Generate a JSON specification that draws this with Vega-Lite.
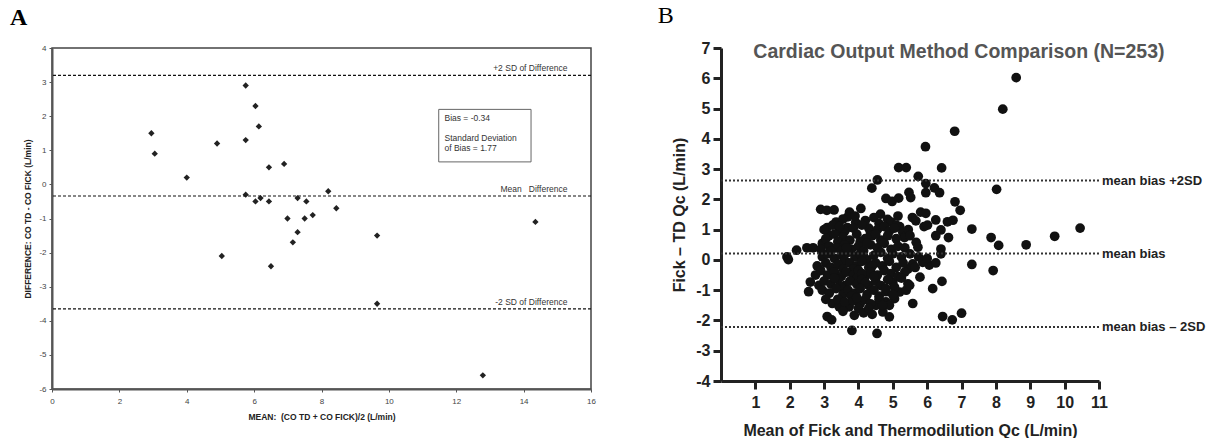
{
  "$schema": "https://vega.github.io/schema/vega-lite/v6.json",
  "background": "white",
  "padding": {"left": 9, "top": 4, "right": 0, "bottom": 0},
  "spacing": 60,
  "config": {"view": {"stroke": null}, "font": "Liberation Sans"},
  "datasets": {
    "a": [
      {"mean": 2.95, "diff": 1.5}, {"mean": 3.05, "diff": 0.9}, {"mean": 4.0, "diff": 0.2}, {"mean": 4.9, "diff": 1.2},
      {"mean": 5.75, "diff": 2.9}, {"mean": 6.04, "diff": 2.3}, {"mean": 6.14, "diff": 1.7}, {"mean": 5.75, "diff": 1.3},
      {"mean": 6.44, "diff": 0.5}, {"mean": 6.89, "diff": 0.6}, {"mean": 5.75, "diff": -0.3}, {"mean": 6.04, "diff": -0.5},
      {"mean": 6.19, "diff": -0.4}, {"mean": 6.44, "diff": -0.5}, {"mean": 7.29, "diff": -0.4}, {"mean": 6.99, "diff": -1.0},
      {"mean": 7.55, "diff": -0.5}, {"mean": 8.2, "diff": -0.2}, {"mean": 8.44, "diff": -0.7}, {"mean": 7.5, "diff": -1.0},
      {"mean": 7.74, "diff": -0.9}, {"mean": 14.35, "diff": -1.1}, {"mean": 7.29, "diff": -1.4}, {"mean": 7.15, "diff": -1.7},
      {"mean": 9.65, "diff": -1.5}, {"mean": 9.65, "diff": -3.5}, {"mean": 12.79, "diff": -5.6}, {"mean": 5.04, "diff": -2.1},
      {"mean": 6.5, "diff": -2.4}
    ],
    "a_lines": [
      {"y": 3.2, "label": "+2 SD of Difference"},
      {"y": -0.34, "label": "Mean\u00a0\u00a0\u00a0Difference"},
      {"y": -3.65, "label": "-2 SD of Difference"}
    ],
    "a_box": [{"t1": "Bias = -0.34", "t2": ["Standard Deviation", "of Bias = 1.77"]}],
    "b_lines": [
      {"y": 2.62, "label": "mean bias +2SD"},
      {"y": 0.21, "label": "mean bias"},
      {"y": -2.22, "label": "mean bias \u2013 2SD"}
    ],
    "b_title": [{"text": "Cardiac Output Method Comparison (N=253)"}],
    "b": [
      {"m": 8.59, "d": 6.02}, {"m": 8.2, "d": 4.98}, {"m": 6.8, "d": 4.25}, {"m": 5.95, "d": 3.74}, {"m": 5.17, "d": 3.05},
      {"m": 5.39, "d": 3.05}, {"m": 6.42, "d": 3.04}, {"m": 5.74, "d": 2.76}, {"m": 8.02, "d": 2.33}, {"m": 5.96, "d": 2.52},
      {"m": 6.21, "d": 2.38}, {"m": 6.36, "d": 2.22}, {"m": 5.47, "d": 2.23}, {"m": 5.96, "d": 2.22}, {"m": 4.55, "d": 2.64},
      {"m": 4.39, "d": 2.37}, {"m": 4.8, "d": 2.03}, {"m": 4.98, "d": 1.93}, {"m": 5.17, "d": 2.04}, {"m": 5.52, "d": 2.06},
      {"m": 2.9, "d": 1.67}, {"m": 3.08, "d": 1.64}, {"m": 3.29, "d": 1.65}, {"m": 3.74, "d": 1.58}, {"m": 3.69, "d": 1.42},
      {"m": 4.07, "d": 1.7}, {"m": 4.64, "d": 1.51}, {"m": 4.85, "d": 1.34}, {"m": 5.15, "d": 1.45}, {"m": 6.81, "d": 1.92},
      {"m": 6.96, "d": 1.64}, {"m": 5.81, "d": 1.58}, {"m": 5.96, "d": 1.54}, {"m": 5.57, "d": 1.4}, {"m": 5.67, "d": 1.29},
      {"m": 6.25, "d": 1.32}, {"m": 6.59, "d": 1.26}, {"m": 6.75, "d": 1.31}, {"m": 7.3, "d": 1.02}, {"m": 5.91, "d": 1.1},
      {"m": 6.01, "d": 1.15}, {"m": 6.4, "d": 0.99}, {"m": 6.25, "d": 0.8}, {"m": 6.62, "d": 0.74}, {"m": 5.2, "d": 1.1},
      {"m": 5.29, "d": 0.91}, {"m": 5.34, "d": 0.74}, {"m": 5.68, "d": 0.58}, {"m": 5.73, "d": 0.42}, {"m": 6.4, "d": 0.36},
      {"m": 7.86, "d": 0.74}, {"m": 8.08, "d": 0.48}, {"m": 8.88, "d": 0.5}, {"m": 9.71, "d": 0.78}, {"m": 10.45, "d": 1.05},
      {"m": 7.3, "d": -0.15}, {"m": 7.92, "d": -0.35}, {"m": 6.43, "d": -0.71}, {"m": 6.16, "d": -0.95}, {"m": 5.58, "d": -1.44},
      {"m": 6.45, "d": -1.87}, {"m": 6.73, "d": -1.98}, {"m": 7.0, "d": -1.76}, {"m": 1.92, "d": 0.1}, {"m": 1.96, "d": 0.01},
      {"m": 2.2, "d": 0.32}, {"m": 2.5, "d": 0.4}, {"m": 2.68, "d": 0.4}, {"m": 2.95, "d": 0.55}, {"m": 3.14, "d": 0.8},
      {"m": 2.6, "d": -0.73}, {"m": 2.55, "d": -1.05}, {"m": 2.75, "d": -0.5}, {"m": 2.85, "d": -0.84}, {"m": 3.09, "d": -1.87},
      {"m": 3.22, "d": -1.98}, {"m": 3.88, "d": -1.83}, {"m": 3.81, "d": -2.33}, {"m": 4.54, "d": -2.43}, {"m": 3.24, "d": -1.44},
      {"m": 3.44, "d": -1.55}, {"m": 3.73, "d": -1.55}, {"m": 4.71, "d": -1.72}, {"m": 4.9, "d": -1.88}, {"m": 4.51, "d": -1.5},
      {"m": 4.8, "d": -1.39}, {"m": 5.05, "d": -1.28}, {"m": 5.2, "d": -1.06}, {"m": 6.06, "d": -0.17}, {"m": 5.79, "d": -0.57},
      {"m": 5.44, "d": -0.79}, {"m": 5.39, "d": -1.0}, {"m": 5.0, "d": -0.73}, {"m": 6.4, "d": 0.2}, {"m": 3.09, "d": 1.07},
      {"m": 3.44, "d": 0.96}, {"m": 3.68, "d": 1.07}, {"m": 3.92, "d": 1.24}, {"m": 5.87, "d": -0.08}, {"m": 5.58, "d": -0.13},
      {"m": 5.44, "d": -0.3}, {"m": 5.49, "d": -0.84},
      {"m": 3.35, "d": 1.25}, {"m": 3.55, "d": 1.35}, {"m": 3.9, "d": 1.45}, {"m": 4.2, "d": 1.3}, {"m": 4.45, "d": 1.4},
      {"m": 4.6, "d": 1.2}, {"m": 4.95, "d": 1.25}, {"m": 5.1, "d": 1.15}, {"m": 4.3, "d": 1.05},
      {"m": 3.0, "d": 1.0}, {"m": 3.25, "d": 1.15}, {"m": 3.6, "d": 0.95}, {"m": 3.85, "d": 1.05}, {"m": 4.1, "d": 1.15},
      {"m": 4.35, "d": 0.9}, {"m": 4.55, "d": 1.0}, {"m": 4.75, "d": 1.1}, {"m": 4.9, "d": 0.95}, {"m": 5.05, "d": 1.05},
      {"m": 5.45, "d": 1.0}, {"m": 3.45, "d": 1.1},
      {"m": 3.05, "d": 0.7}, {"m": 3.3, "d": 0.85}, {"m": 3.55, "d": 0.75}, {"m": 3.75, "d": 0.65}, {"m": 3.95, "d": 0.85},
      {"m": 4.2, "d": 0.7}, {"m": 4.4, "d": 0.8}, {"m": 4.65, "d": 0.65}, {"m": 4.85, "d": 0.8}, {"m": 5.1, "d": 0.7},
      {"m": 5.5, "d": 0.8}, {"m": 4.05, "d": 0.6}, {"m": 3.4, "d": 0.6},
      {"m": 2.9, "d": 0.35}, {"m": 3.15, "d": 0.45}, {"m": 3.35, "d": 0.4}, {"m": 3.6, "d": 0.5}, {"m": 3.8, "d": 0.35},
      {"m": 4.0, "d": 0.45}, {"m": 4.15, "d": 0.3}, {"m": 4.35, "d": 0.5}, {"m": 4.55, "d": 0.4}, {"m": 4.75, "d": 0.55},
      {"m": 4.95, "d": 0.35}, {"m": 5.15, "d": 0.45}, {"m": 5.35, "d": 0.4}, {"m": 3.5, "d": 0.3}, {"m": 4.25, "d": 0.55},
      {"m": 2.95, "d": 0.1}, {"m": 3.1, "d": 0.2}, {"m": 3.3, "d": 0.05}, {"m": 3.5, "d": 0.15}, {"m": 3.7, "d": 0.25},
      {"m": 3.9, "d": 0.1}, {"m": 4.05, "d": 0.2}, {"m": 4.25, "d": 0.0}, {"m": 4.45, "d": 0.15}, {"m": 4.65, "d": 0.25},
      {"m": 4.85, "d": 0.05}, {"m": 5.0, "d": 0.2}, {"m": 5.25, "d": 0.1}, {"m": 5.5, "d": 0.2}, {"m": 5.75, "d": 0.1},
      {"m": 6.0, "d": 0.05}, {"m": 3.6, "d": -0.02}, {"m": 4.15, "d": 0.12},
      {"m": 2.8, "d": -0.2}, {"m": 3.05, "d": -0.1}, {"m": 3.2, "d": -0.25}, {"m": 3.4, "d": -0.15}, {"m": 3.55, "d": -0.3},
      {"m": 3.75, "d": -0.1}, {"m": 3.95, "d": -0.2}, {"m": 4.1, "d": -0.05}, {"m": 4.3, "d": -0.25}, {"m": 4.5, "d": -0.1},
      {"m": 4.7, "d": -0.2}, {"m": 4.9, "d": -0.05}, {"m": 5.1, "d": -0.25}, {"m": 5.3, "d": -0.1}, {"m": 5.65, "d": -0.25},
      {"m": 6.25, "d": -0.1}, {"m": 3.85, "d": -0.3}, {"m": 4.4, "d": -0.2},
      {"m": 2.9, "d": -0.35}, {"m": 3.1, "d": -0.5}, {"m": 3.3, "d": -0.4}, {"m": 3.5, "d": -0.55}, {"m": 3.65, "d": -0.4},
      {"m": 3.85, "d": -0.5}, {"m": 4.0, "d": -0.35}, {"m": 4.2, "d": -0.55}, {"m": 4.35, "d": -0.4}, {"m": 4.55, "d": -0.5},
      {"m": 4.75, "d": -0.35}, {"m": 4.95, "d": -0.45}, {"m": 5.15, "d": -0.55}, {"m": 5.35, "d": -0.4}, {"m": 3.95, "d": -0.6},
      {"m": 4.1, "d": -0.45},
      {"m": 3.0, "d": -0.7}, {"m": 3.2, "d": -0.8}, {"m": 3.4, "d": -0.65}, {"m": 3.6, "d": -0.85}, {"m": 3.75, "d": -0.7},
      {"m": 3.95, "d": -0.8}, {"m": 4.1, "d": -0.65}, {"m": 4.3, "d": -0.85}, {"m": 4.5, "d": -0.7}, {"m": 4.65, "d": -0.85},
      {"m": 4.85, "d": -0.65}, {"m": 5.05, "d": -0.9}, {"m": 5.25, "d": -0.6}, {"m": 3.5, "d": -0.9}, {"m": 4.2, "d": -0.75},
      {"m": 2.95, "d": -1.0}, {"m": 3.15, "d": -1.1}, {"m": 3.35, "d": -0.95}, {"m": 3.55, "d": -1.15}, {"m": 3.7, "d": -1.0},
      {"m": 3.9, "d": -1.1}, {"m": 4.05, "d": -0.95}, {"m": 4.25, "d": -1.15}, {"m": 4.45, "d": -1.0}, {"m": 4.6, "d": -1.2},
      {"m": 4.8, "d": -1.05}, {"m": 5.0, "d": -1.15}, {"m": 3.8, "d": -1.2},
      {"m": 3.05, "d": -1.3}, {"m": 3.4, "d": -1.3}, {"m": 3.6, "d": -1.4}, {"m": 3.85, "d": -1.35}, {"m": 4.05, "d": -1.45},
      {"m": 4.2, "d": -1.3}, {"m": 4.35, "d": -1.45}, {"m": 4.6, "d": -1.3}, {"m": 4.9, "d": -1.5}, {"m": 3.95, "d": -1.25},
      {"m": 3.55, "d": -1.7}, {"m": 4.0, "d": -1.6}, {"m": 4.15, "d": -1.75}, {"m": 4.3, "d": -1.6}, {"m": 4.4, "d": -1.8},
      {"m": 3.3, "d": -0.6}, {"m": 4.45, "d": -0.55}, {"m": 4.8, "d": -0.95}, {"m": 3.65, "d": 0.4}, {"m": 4.5, "d": 0.85},
      {"m": 3.2, "d": 0.3}, {"m": 4.7, "d": -1.5}
    ]
  },
  "hconcat": [
    {
      "width": 539,
      "height": 341,
      "title": {"text": "A", "anchor": "start", "frame": "bounds", "font": "Liberation Serif", "fontSize": 24, "fontWeight": "bold", "color": "black", "offset": 14, "dx": -14},
      "view": {"stroke": "#444", "strokeWidth": 1.5},
      "layer": [
        {
          "data": {"name": "a"},
          "mark": {"type": "point", "shape": "diamond", "filled": true, "size": 40, "color": "#222", "opacity": 1},
          "encoding": {
            "x": {
              "field": "mean", "type": "quantitative",
              "scale": {"domain": [0, 16], "nice": false, "zero": false},
              "axis": {
                "title": "MEAN:\u00a0\u00a0(CO TD + CO FICK)/2 (L/min)", "values": [0, 2, 4, 6, 8, 10, 12, 14, 16], "tickCount": 30, "format": "d",
                "grid": false, "tickSize": 3, "tickColor": "#555", "domainColor": "#555", "domainWidth": 2,
                "labelFontSize": 8, "labelColor": "#444", "labelPadding": 5, "labelFlush": false, "labelOverlap": false,
                "titleFontSize": 8.5, "titleFontWeight": "bold", "titleColor": "#222", "titlePadding": 7
              }
            },
            "y": {
              "field": "diff", "type": "quantitative",
              "scale": {"domain": [-6, 4], "nice": false, "zero": false},
              "axis": {
                "title": "DIFFERENCE:  CO TD - CO FICK (L/min)", "values": [-6, -5, -4, -3, -2, -1, 0, 1, 2, 3, 4], "tickCount": 30,
                "labelExpr": "datum.value < 0 ? '-' + abs(datum.value) : '' + datum.value",
                "grid": false, "tickSize": 3, "tickColor": "#555", "domainColor": "#555", "domainWidth": 2,
                "labelFontSize": 8, "labelColor": "#444", "labelPadding": 3, "labelFlush": false, "labelOverlap": false,
                "titleFontSize": 8.5, "titleFontWeight": "bold", "titleColor": "#222", "titlePadding": 6
              }
            }
          }
        },
        {
          "data": {"name": "a_lines"},
          "mark": {"type": "rule", "strokeDash": [3, 2], "strokeWidth": 1.2, "color": "#111"},
          "encoding": {"y": {"field": "y", "type": "quantitative"}}
        },
        {
          "data": {"name": "a_lines"},
          "mark": {"type": "text", "align": "right", "baseline": "middle", "dy": -7, "fontSize": 8.5, "color": "#333"},
          "encoding": {"x": {"datum": 15.3}, "y": {"field": "y", "type": "quantitative"}, "text": {"field": "label"}}
        },
        {
          "data": {"name": "a_box"},
          "mark": {"type": "rect", "fill": "white", "stroke": "#666", "strokeWidth": 1},
          "encoding": {"x": {"datum": 11.48}, "x2": {"datum": 14.22}, "y": {"datum": 2.2}, "y2": {"datum": 0.66}}
        },
        {
          "data": {"name": "a_box"},
          "mark": {"type": "text", "align": "left", "baseline": "middle", "fontSize": 8.5, "color": "#333"},
          "encoding": {"x": {"datum": 11.65}, "y": {"datum": 1.95}, "text": {"field": "t1"}}
        },
        {
          "data": {"name": "a_box"},
          "mark": {"type": "text", "align": "left", "baseline": "top", "fontSize": 8.5, "lineHeight": 10, "color": "#333"},
          "encoding": {"x": {"datum": 11.65}, "y": {"datum": 1.47}, "text": {"field": "t2"}}
        }
      ]
    },
    {
      "width": 378,
      "height": 333,
      "title": {"text": "B", "anchor": "start", "frame": "bounds", "font": "Liberation Serif", "fontSize": 24, "fontWeight": "normal", "color": "black", "offset": 12, "dx": -14},
      "layer": [
        {
          "data": {"name": "b"},
          "mark": {"type": "circle", "size": 95, "color": "#111", "opacity": 1},
          "encoding": {
            "x": {
              "field": "m", "type": "quantitative",
              "scale": {"domain": [0, 11], "nice": false, "zero": false},
              "axis": {
                "title": "Mean of Fick and Thermodilution Qc (L/min)", "values": [1, 2, 3, 4, 5, 6, 7, 8, 9, 10, 11], "tickCount": 30, "format": "d",
                "grid": false, "tickSize": 8, "tickWidth": 3, "tickColor": "#222", "domainColor": "#222", "domainWidth": 3,
                "labelFontSize": 16, "labelFontWeight": "bold", "labelColor": "#222", "labelPadding": 5, "labelFlush": false, "labelOverlap": false,
                "titleFontSize": 16, "titleFontWeight": "bold", "titleColor": "#222", "titlePadding": 12
              }
            },
            "y": {
              "field": "d", "type": "quantitative",
              "scale": {"domain": [-4, 7], "nice": false, "zero": false},
              "axis": {
                "title": "Fick \u2013 TD Qc (L/min)", "values": [-4, -3, -2, -1, 0, 1, 2, 3, 4, 5, 6, 7], "tickCount": 30,
                "labelExpr": "datum.value < 0 ? '-' + abs(datum.value) : '' + datum.value",
                "grid": false, "tickSize": 8, "tickWidth": 3, "tickColor": "#222", "domainColor": "#222", "domainWidth": 3,
                "labelFontSize": 16, "labelFontWeight": "bold", "labelColor": "#222", "labelPadding": 3, "labelFlush": false, "labelOverlap": false,
                "titleFontSize": 16, "titleFontWeight": "bold", "titleColor": "#222", "titlePadding": 8
              }
            }
          }
        },
        {
          "data": {"name": "b_lines"},
          "mark": {"type": "rule", "strokeDash": [2, 2], "strokeWidth": 2, "color": "#333"},
          "encoding": {"y": {"field": "y", "type": "quantitative"}}
        },
        {
          "data": {"name": "b_lines"},
          "mark": {"type": "text", "align": "left", "baseline": "middle", "dx": 3, "fontSize": 13, "fontWeight": "bold", "color": "#222"},
          "encoding": {"x": {"datum": 11}, "y": {"field": "y", "type": "quantitative"}, "text": {"field": "label"}}
        },
        {
          "data": {"name": "b_title"},
          "mark": {"type": "text", "align": "left", "baseline": "middle", "fontSize": 19.5, "fontWeight": "bold", "color": "#555"},
          "encoding": {"x": {"datum": 0.94}, "y": {"datum": 6.88}, "text": {"field": "text"}}
        }
      ]
    }
  ]
}
